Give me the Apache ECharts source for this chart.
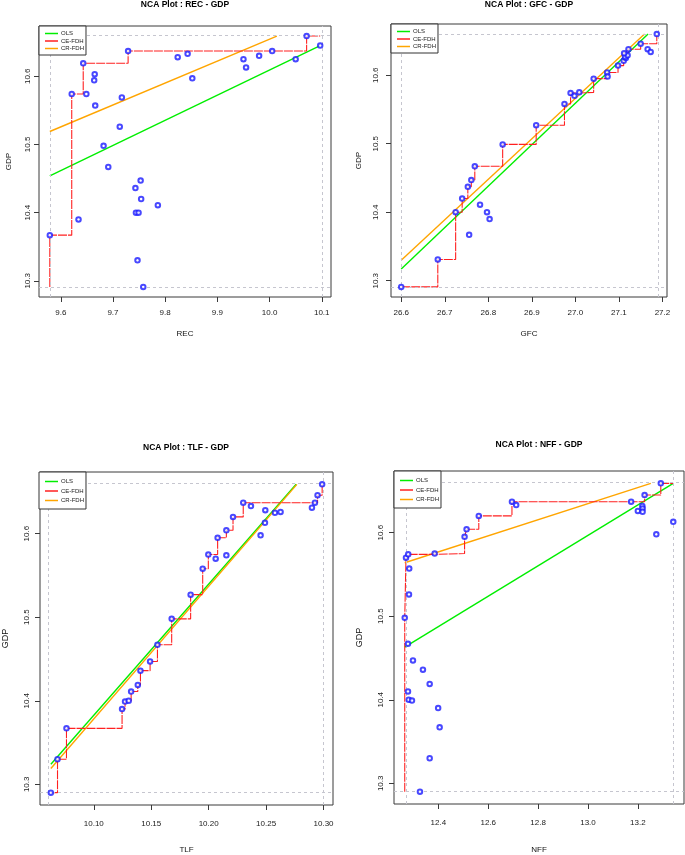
<!DOCTYPE html>
<html>
<head>
<meta charset="utf-8">
<script src="https://cdn.jsdelivr.net/npm/echarts@6/dist/echarts.min.js"></script>
<style>
  html, body { margin: 0; padding: 0; background: #ffffff; }
  #chart { width: 685px; height: 855px; }
</style>
</head>
<body>
<div id="chart"></div>
<script>
// ---------- data ----------
const panelTitles = ['NCA Plot : REC - GDP', 'NCA Plot : GFC - GDP', 'NCA Plot : TLF - GDP', 'NCA Plot : NFF - GDP'];
const xNames = ['REC', 'GFC', 'TLF', 'NFF'];
const yName = 'GDP';
const legendNames = ['OLS', 'CE-FDH', 'CR-FDH'];

const rec = [9.579, 9.621, 9.634, 9.643, 9.649, 9.665, 9.664, 9.666, 9.682, 9.691, 9.713, 9.717, 9.729, 9.743, 9.744, 9.749, 9.753, 9.754, 9.747, 9.758, 9.786, 9.824, 9.843, 9.852, 9.950, 9.955, 9.980, 10.005, 10.050, 10.071, 10.097];
const recGdp = [10.367, 10.574, 10.390, 10.619, 10.574, 10.603, 10.594, 10.557, 10.498, 10.467, 10.526, 10.569, 10.637, 10.436, 10.400, 10.400, 10.447, 10.420, 10.330, 10.291, 10.411, 10.628, 10.633, 10.597, 10.625, 10.613, 10.630, 10.637, 10.625, 10.659, 10.645];

const gfc = [26.600, 26.684, 26.725, 26.740, 26.753, 26.761, 26.756, 26.769, 26.781, 26.797, 26.803, 26.833, 26.910, 26.975, 26.989, 26.998, 27.009, 27.042, 27.073, 27.074, 27.098, 27.111, 27.116, 27.114, 27.120, 27.112, 27.122, 27.150, 27.166, 27.173, 27.187];
const gfcGdp = [10.291, 10.331, 10.400, 10.420, 10.437, 10.447, 10.367, 10.467, 10.411, 10.400, 10.390, 10.499, 10.527, 10.558, 10.574, 10.570, 10.575, 10.595, 10.604, 10.598, 10.614, 10.621, 10.625, 10.627, 10.629, 10.632, 10.638, 10.646, 10.638, 10.634, 10.660];

const tlf = [10.0626, 10.0684, 10.0762, 10.1246, 10.1272, 10.1304, 10.1325, 10.1383, 10.1406, 10.1490, 10.1554, 10.1678, 10.1843, 10.1948, 10.1997, 10.2061, 10.2078, 10.2154, 10.2154, 10.2212, 10.2301, 10.2368, 10.2452, 10.2490, 10.2493, 10.2577, 10.2626, 10.2899, 10.2925, 10.2948, 10.2988];
const tlfGdp = [10.290, 10.330, 10.367, 10.390, 10.399, 10.400, 10.411, 10.419, 10.436, 10.447, 10.467, 10.498, 10.527, 10.558, 10.575, 10.570, 10.595, 10.574, 10.604, 10.620, 10.637, 10.633, 10.598, 10.613, 10.628, 10.625, 10.626, 10.631, 10.637, 10.646, 10.659];

const nff = [12.265, 12.270, 12.279, 12.283, 12.282, 12.278, 12.298, 12.338, 12.278, 12.281, 12.294, 12.365, 12.399, 12.405, 12.365, 12.326, 12.385, 12.505, 12.513, 12.562, 12.695, 12.712, 13.173, 13.200, 13.218, 13.219, 13.219, 13.227, 13.274, 13.292, 13.342];
const nffGdp = [10.498, 10.570, 10.574, 10.557, 10.526, 10.467, 10.447, 10.436, 10.410, 10.400, 10.399, 10.419, 10.390, 10.367, 10.330, 10.290, 10.575, 10.595, 10.604, 10.620, 10.637, 10.633, 10.637, 10.626, 10.632, 10.629, 10.625, 10.645, 10.598, 10.659, 10.613];

// ceiling / regression lines: [intercept, slope]
const olsLines = [[6.92194, 0.36873], [-5.7744, 0.60494], [-5.4582, 1.5684], [8.2309, 0.18199]];
const crFdhLines = [[7.43610, 0.32184], [-5.3730, 0.59034], [-5.6534, 1.5873], [9.3835, 0.09625]];

// tick labels
const xTicks = [
  ['9.6', '9.7', '9.8', '9.9', '10.0', '10.1'],
  ['26.6', '26.7', '26.8', '26.9', '27.0', '27.1', '27.2'],
  ['10.10', '10.15', '10.20', '10.25', '10.30'],
  ['12.4', '12.6', '12.8', '13.0', '13.2']
];
const yTicks = ['10.3', '10.4', '10.5', '10.6'];

const xs = [rec, gfc, tlf, nff];
const ys = [recGdp, gfcGdp, tlfGdp, nffGdp];

// ---------- layout ----------
const FONT = '"Liberation Sans", Arial, sans-serif';
const grids = [
  { left: 39, top: 26, width: 292, height: 271 },
  { left: 391, top: 24, width: 276, height: 273 },
  { left: 39, top: 472, width: 294, height: 333 },
  { left: 394, top: 471, width: 290, height: 333 }
];
const titlePos = [[185, 0], [529, 0], [186, 443], [539, 440]];
const xNameGap = [33, 33, 41, 42];
const yNameGap = [26, 28, 30, 29.5];
const yLabelMargin = [7, 11, 9, 9];
const xLabelMargin = [12, 12, 15, 15];

function ceFdh(x, y) {
  const idx = x.map((v, i) => i).sort((a, b) => x[a] - x[b] || y[a] - y[b]);
  const xmin = Math.min(...x), xmax = Math.max(...x), ymin = Math.min(...y);
  let cur = ymin;
  const pts = [[xmin, ymin]];
  idx.forEach(i => {
    if (y[i] > cur) {
      pts.push([x[i], cur]);
      pts.push([x[i], y[i]]);
      cur = y[i];
    }
  });
  pts.push([xmax, cur]);
  return pts;
}

function clipLine(line, x0, x1, y0, y1) {
  const a = line[0], b = line[1];
  let s = x0, e = x1;
  if (b > 0) { s = Math.max(s, (y0 - a) / b); e = Math.min(e, (y1 - a) / b); }
  return [[s, a + b * s], [e, a + b * e]];
}

const option = {
  animation: false,
  backgroundColor: '#ffffff',
  textStyle: { fontFamily: FONT },
  title: [], grid: [], xAxis: [], yAxis: [], legend: [], series: []
};

for (let p = 0; p < 4; p++) {
  const x = xs[p], y = ys[p];
  const xmin = Math.min(...x), xmax = Math.max(...x);
  const ymin = Math.min(...y), ymax = Math.max(...y);
  const xpad = 0.04 * (xmax - xmin), ypad = 0.04 * (ymax - ymin);
  const g = grids[p];

  option.title.push({
    text: panelTitles[p], left: titlePos[p][0], top: titlePos[p][1], textAlign: 'center', padding: 0,
    textStyle: { fontFamily: FONT, fontSize: 8.5, fontWeight: 'bold', color: '#000' }
  });

  option.grid.push({
    left: g.left, top: g.top, width: g.width, height: g.height,
    show: true, borderColor: '#3a3a3a', borderWidth: 1, backgroundColor: 'transparent', containLabel: false
  });

  const xt = xTicks[p];
  const xdec = xt[0].split('.')[1].length;
  option.xAxis.push({
    type: 'value', gridIndex: p, min: xmin - xpad, max: xmax + xpad,
    name: xNames[p], nameLocation: 'middle', nameGap: xNameGap[p],
    nameTextStyle: { fontFamily: FONT, fontSize: 8, color: '#111' },
    axisLine: { show: false },
    axisTick: { show: true, length: 5, customValues: xt.map(Number), lineStyle: { color: '#3a3a3a' } },
    axisLabel: { show: true, customValues: xt.map(Number), margin: xLabelMargin[p], fontSize: 8, color: '#1a1a1a', fontFamily: FONT,
      formatter: v => Number(v).toFixed(xdec) },
    splitLine: { show: false }
  });

  option.yAxis.push({
    type: 'value', gridIndex: p, min: ymin - ypad, max: ymax + ypad,
    name: yName, nameLocation: 'middle', nameGap: yNameGap[p],
    nameTextStyle: { fontFamily: FONT, fontSize: p < 2 ? 8 : 9, color: '#111' },
    axisLine: { show: false },
    axisTick: { show: true, length: 5, customValues: yTicks.map(Number), lineStyle: { color: '#3a3a3a' } },
    axisLabel: { show: true, customValues: yTicks.map(Number), rotate: 90, margin: yLabelMargin[p], fontSize: 8, color: '#1a1a1a', fontFamily: FONT,
      formatter: v => Number(v).toFixed(1) },
    splitLine: { show: false }
  });

  const small = p < 2;
  option.legend.push({
    data: legendNames, orient: 'vertical', left: g.left, top: g.top,
    padding: small ? [4, 2, 3, 6] : [5, 2, 4, 6],
    itemGap: 0.5, itemWidth: 13, itemHeight: 1.5, icon: 'rect',
    backgroundColor: '#ffffff', borderColor: '#333', borderWidth: 1,
    textStyle: { fontFamily: FONT, fontSize: 6, color: '#222', lineHeight: small ? 7 : 9, padding: [0, 0, 0, -2] },
    selectedMode: false, z: 10
  });

  option.series.push({
    type: 'scatter', name: 'points', xAxisIndex: p, yAxisIndex: p, z: 5,
    data: x.map((v, i) => [v, y[i]]),
    symbol: 'emptyCircle', symbolSize: 4.5,
    itemStyle: { color: '#1a1aff', borderColor: '#1a1aff', borderWidth: 0.9 },
    markLine: {
      silent: true, symbol: 'none', label: { show: false },
      lineStyle: { color: '#c6c6cf', type: [3, 3], width: 1 },
      data: [{ xAxis: xmin }, { xAxis: xmax }, { yAxis: ymin }, { yAxis: ymax }]
    }
  });

  option.series.push({
    type: 'line', name: 'OLS', xAxisIndex: p, yAxisIndex: p, z: 3,
    data: clipLine(olsLines[p], xmin, xmax, ymin, ymax),
    showSymbol: false, symbol: 'none',
    lineStyle: { color: '#00ee00', width: 1.4 }, itemStyle: { color: '#00ee00' }
  });
  option.series.push({
    type: 'line', name: 'CE-FDH', xAxisIndex: p, yAxisIndex: p, z: 4,
    data: ceFdh(x, y),
    showSymbol: false, symbol: 'none',
    lineStyle: { color: '#ff2020', width: 1.1, type: [9, 1] }, itemStyle: { color: '#ff2020' }
  });
  option.series.push({
    type: 'line', name: 'CR-FDH', xAxisIndex: p, yAxisIndex: p, z: 3,
    data: clipLine(crFdhLines[p], xmin, xmax, ymin, ymax),
    showSymbol: false, symbol: 'none',
    lineStyle: { color: '#ffa500', width: 1.4 }, itemStyle: { color: '#ffa500' }
  });
}

const chart = echarts.init(document.getElementById('chart'), null, { renderer: 'canvas' });
chart.setOption(option);
</script>
</body>
</html>
